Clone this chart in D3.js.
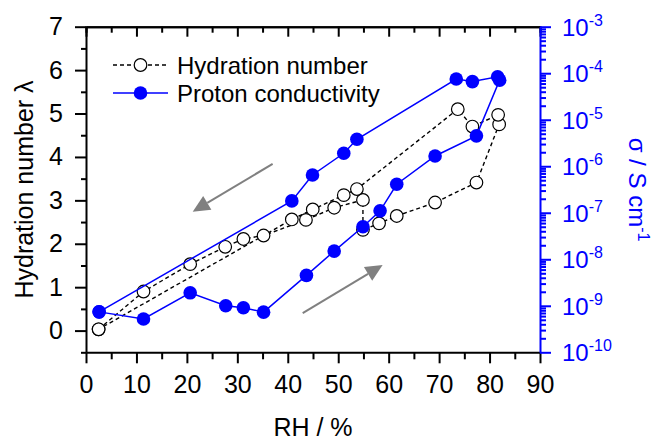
<!DOCTYPE html>
<html>
<head>
<meta charset="utf-8">
<script src="https://cdn.jsdelivr.net/npm/d3@7"></script>
<style>
  body { margin: 0; background: #fff; }
  svg { font-family: "Liberation Sans", Arial, sans-serif; }
</style>
</head>
<body>
<div id="chart"></div>
<script>
// RH sweep, adsorption (up) then desorption (down)
const rhSigmaAds = [2.6, 11.4, 20.65, 27.7, 31.2, 35.2, 43.7, 49.2, 54.9, 58.3, 61.6, 69.2, 77.4, 82.0];
const sigmaAds = [7.4e-10, 5.2e-10, 1.9e-9, 1.0e-9, 9.1e-10, 7.3e-10, 4.5e-9, 1.5e-8, 5.0e-8, 1.1e-7, 4.1e-7, 1.66e-6, 4.5e-6, 7.1e-5];
const rhSigmaDes = [81.6, 76.6, 73.4, 53.7, 51.1, 44.9, 40.8, 2.6];
const sigmaDes = [8.4e-5, 6.6e-5, 7.5e-5, 3.8e-6, 1.9e-6, 6.5e-7, 1.8e-7, 7.4e-10];

const rhLambdaAds = [2.5, 11.4, 20.65, 27.6, 31.2, 35.2, 43.6, 49.2, 54.9, 54.9, 58.1, 61.6, 69.2, 77.4, 81.9];
const lambdaAds = [0.03, 0.90, 1.53, 1.93, 2.11, 2.19, 2.55, 2.83, 3.01, 2.32, 2.47, 2.64, 2.95, 3.41, 4.75];
const rhLambdaDes = [81.7, 76.6, 73.7, 53.7, 51.1, 44.95, 40.8, 2.5];
const lambdaDes = [4.97, 4.70, 5.10, 3.26, 3.12, 2.79, 2.56, 0.03];

const xTicks = [0, 10, 20, 30, 40, 50, 60, 70, 80, 90];
const yTicks = [0, 1, 2, 3, 4, 5, 6, 7];
const yRightExps = [-10, -9, -8, -7, -6, -5, -4, -3];

// arrows in data units [rh, lambda]: tail -> tip
const arrows = [
  [[37.0, 3.84], [21.15, 2.74]],
  [[42.96, 0.40], [58.8, 1.51]]
];

const W = 655, H = 443;
const margin = { top: 26.7, right: 115, bottom: 90.7, left: 86 };
const width = W - margin.left - margin.right;
const height = H - margin.top - margin.bottom;
const blue = "#0000ff";

const svg = d3.select("#chart").append("svg")
    .attr("width", W)
    .attr("height", H);
const g = svg.append("g")
    .attr("transform", `translate(${margin.left},${margin.top})`);

// Scales
const x = d3.scaleLinear().domain([0, 90]).range([0, width]);
const y = d3.scaleLinear().domain([-0.5, 7]).range([height, 0]);
const yR = d3.scaleLog().domain([1e-10, 1e-3]).range([height, 0]);

// Axes
const xMinor = d3.range(5, 90, 10);
const bottomAx = g.append("g").attr("transform", `translate(0,${height})`);
bottomAx.append("g")
    .call(d3.axisBottom(x).tickValues(xMinor).tickSize(7).tickFormat(""))
    .call(a => a.select(".domain").remove());
bottomAx.append("g")
    .call(d3.axisBottom(x).tickValues(xTicks).tickSize(11).tickSizeOuter(0).tickPadding(12).tickFormat(d3.format("d")));
bottomAx.selectAll("text").attr("font-size", 25).attr("fill", "#000").attr("font-family", null);

const topAx = g.append("g");
topAx.append("g")
    .call(d3.axisTop(x).tickValues(xMinor).tickSize(-6).tickFormat(""));
topAx.append("g")
    .call(d3.axisTop(x).tickValues(xTicks).tickSize(-10).tickSizeOuter(0).tickFormat(""));

const leftAx = g.append("g");
leftAx.append("g")
    .call(d3.axisLeft(y).tickValues(d3.range(-0.5, 7, 1)).tickSize(5).tickFormat(""))
    .call(a => a.select(".domain").remove());
leftAx.append("g")
    .call(d3.axisLeft(y).tickValues(yTicks).tickSize(11).tickSizeOuter(0).tickPadding(12).tickFormat(d3.format("d")));
leftAx.selectAll("text").attr("font-size", 25).attr("fill", "#000").attr("font-family", null);

// right log axis
const minors = [];
yRightExps.slice(0, -1).forEach(e => {
  for (let k = 2; k <= 9; k++) minors.push(k * Math.pow(10, e));
});
const rightAx = g.append("g").attr("transform", `translate(${width},0)`);
rightAx.append("g")
    .call(d3.axisRight(yR).tickValues(minors).tickSize(6).tickFormat(""))
    .call(a => a.select(".domain").remove());
rightAx.append("g")
    .call(d3.axisRight(yR).tickValues(yRightExps.map(e => Math.pow(10, e))).tickSize(11).tickSizeOuter(0).tickFormat(""));
rightAx.selectAll("line, path").attr("stroke", blue);

const rLabels = rightAx.selectAll(".rlab")
    .data(yRightExps)
    .enter().append("text")
    .attr("x", 22)
    .attr("y", d => yR(Math.pow(10, d)) + 9)
    .attr("fill", blue)
    .attr("font-size", 24);
rLabels.append("tspan").text("10");
rLabels.append("tspan").attr("dy", -10).attr("font-size", 16).text(d => String(d));

g.selectAll(".tick line, .domain").attr("stroke-width", 2);

// Titles
svg.append("text")
    .attr("x", margin.left + width / 2)
    .attr("y", 436)
    .attr("text-anchor", "middle")
    .attr("font-size", 25)
    .text("RH / %");

svg.append("text")
    .attr("transform", `translate(33,${margin.top + height / 2}) rotate(-90)`)
    .attr("text-anchor", "middle")
    .attr("font-size", 25)
    .text("Hydration number λ");

const rt = svg.append("text")
    .attr("transform", `translate(629,${margin.top + height / 2}) rotate(90)`)
    .attr("text-anchor", "middle")
    .attr("fill", blue)
    .attr("font-size", 24);
rt.append("tspan").text("σ / S cm");
rt.append("tspan").attr("dy", -9).attr("font-size", 16).text("-1");

// Series
const lineL = d3.line().x(d => x(d[0])).y(d => y(d[1]));
const lineR = d3.line().x(d => x(d[0])).y(d => yR(d[1]));

const hydration = rhLambdaAds.map((r, i) => [r, lambdaAds[i]])
    .concat(rhLambdaDes.map((r, i) => [r, lambdaDes[i]]));
const proton = rhSigmaAds.map((r, i) => [r, sigmaAds[i]])
    .concat(rhSigmaDes.map((r, i) => [r, sigmaDes[i]]));

g.append("path")
    .datum(hydration)
    .attr("fill", "none")
    .attr("stroke", "#000")
    .attr("stroke-width", 1.4)
    .attr("stroke-dasharray", "4,3")
    .attr("d", lineL);

g.selectAll(".hyd")
    .data(hydration)
    .enter().append("circle")
    .attr("cx", d => x(d[0]))
    .attr("cy", d => y(d[1]))
    .attr("r", 6.3)
    .attr("fill", "#fff")
    .attr("stroke", "#000")
    .attr("stroke-width", 1.2);

g.append("path")
    .datum(proton)
    .attr("fill", "none")
    .attr("stroke", blue)
    .attr("stroke-width", 1.5)
    .attr("d", lineR);

g.selectAll(".pc")
    .data(proton)
    .enter().append("circle")
    .attr("cx", d => x(d[0]))
    .attr("cy", d => yR(d[1]))
    .attr("r", 6.8)
    .attr("fill", blue);

// Arrows
const grey = "#808080";
arrows.forEach(([a, b]) => {
  const x0 = x(a[0]), y0 = y(a[1]), x1 = x(b[0]), y1 = y(b[1]);
  const ang = Math.atan2(y1 - y0, x1 - x0);
  const len = 17, hw = 8;
  const bx = x1 - len * Math.cos(ang), by = y1 - len * Math.sin(ang);
  g.append("line")
      .attr("x1", x0).attr("y1", y0).attr("x2", bx).attr("y2", by)
      .attr("stroke", grey).attr("stroke-width", 2);
  const px = -Math.sin(ang) * hw, py = Math.cos(ang) * hw;
  g.append("path")
      .attr("d", `M${x1},${y1}L${bx + px},${by + py}L${bx - px},${by - py}Z`)
      .attr("fill", grey);
});

// Legend
const legend = svg.append("g");
const rows = [
  { label: "Hydration number", y: 65, dash: "4,3", color: "#000", open: true },
  { label: "Proton conductivity", y: 93, dash: null, color: blue, open: false }
];
rows.forEach(r => {
  legend.append("line")
      .attr("x1", 113).attr("x2", 168).attr("y1", r.y).attr("y2", r.y)
      .attr("stroke", r.color).attr("stroke-width", r.open ? 1.4 : 1.5)
      .attr("stroke-dasharray", r.dash);
  legend.append("circle")
      .attr("cx", 140.5).attr("cy", r.y)
      .attr("r", r.open ? 6.3 : 6.8)
      .attr("fill", r.open ? "#fff" : blue)
      .attr("stroke", r.open ? "#000" : "none")
      .attr("stroke-width", 1.2);
  legend.append("text")
      .attr("x", 177).attr("y", r.y + 8.5)
      .attr("font-size", 24)
      .text(r.label);
});
</script>
</body>
</html>
